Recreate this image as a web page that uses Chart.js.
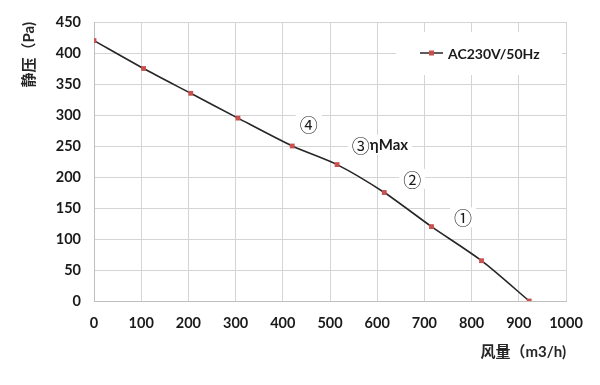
<!DOCTYPE html>
<html>
<head>
<meta charset="utf-8">
<script src="https://cdn.jsdelivr.net/npm/chart.js@4/dist/chart.umd.min.js"></script>
<style>
  html, body { margin: 0; padding: 0; background: #ffffff; }
  #wrap { width: 600px; height: 385px; }
</style>
</head>
<body>
<div id="wrap"><canvas id="c" width="600" height="385"></canvas></div>
<script>
// Data
const flow = [0, 105, 205, 305, 420, 515, 615, 715, 821, 922];
const pressure = [420, 375, 335, 295, 250, 220, 175, 120, 65, 0];
const seriesName = 'AC230V/50Hz';
const xTicks = [0, 100, 200, 300, 400, 500, 600, 700, 800, 900, 1000];
const yTicks = [0, 50, 100, 150, 200, 250, 300, 350, 400, 450];
const labelMarks = ['④', '③', '②', '①'];
const labelSuffix = ['', 'ηMax', '', ''];
const labelX = [455, 606, 674, 782];
const labelY = [285, 252, 197, 135];

const FONT = 'Lato, "Noto Sans CJK SC", sans-serif';
const CJK = '"Noto Sans CJK SC", sans-serif';

const overlay = {
  id: 'overlay',
  beforeDatasetsDraw(chart) {
    const ctx = chart.ctx;
    const xs = chart.scales.x, ys = chart.scales.y;
    ctx.save();
    ctx.textBaseline = 'middle';
    ctx.textAlign = 'left';
    labelMarks.forEach((m, i) => {
      const px = xs.getPixelForValue(labelX[i]);
      const py = ys.getPixelForValue(labelY[i]);
      ctx.font = '18px ' + CJK;
      const w1 = ctx.measureText(m).width;
      ctx.font = 'bold 15px ' + FONT;
      const w2 = labelSuffix[i] ? ctx.measureText(labelSuffix[i]).width : 0;
      const w = w1 + w2;
      const x0 = px - w / 2;
      ctx.fillStyle = '#ffffff';
      ctx.fillRect(x0 - 4, py - 10, w + 8, 20);
      ctx.fillStyle = '#1a1a1a';
      ctx.font = '18px ' + CJK;
      ctx.fillText(m, x0, py + 1);
      if (labelSuffix[i]) {
        ctx.font = 'bold 15px ' + FONT;
        ctx.fillText(labelSuffix[i], x0 + w1, py);
      }
    });
    // legend box
    const ca = chart.chartArea;
    const lx = ca.right - 170, ly = ca.top + 10;
    ctx.fillStyle = '#ffffff';
    ctx.fillRect(lx, ly, 166, 43);
    const cy = ly + 21;
    ctx.strokeStyle = '#262626';
    ctx.lineWidth = 1.5;
    ctx.beginPath();
    ctx.moveTo(lx + 24, cy);
    ctx.lineTo(lx + 47, cy);
    ctx.stroke();
    ctx.fillStyle = '#c8504d';
    ctx.fillRect(lx + 33, cy - 2.5, 5, 5);
    ctx.fillStyle = '#1a1a1a';
    ctx.font = 'bold 14px ' + FONT;
    ctx.textAlign = 'left';
    ctx.fillText(seriesName, lx + 52, cy + 1);
    ctx.restore();
  }
};

new Chart(document.getElementById('c'), {
  type: 'line',
  data: {
    datasets: [{
      label: seriesName,
      data: flow.map((x, i) => ({ x: x, y: pressure[i] })),
      borderColor: '#262626',
      borderWidth: 1.6,
      tension: 0.25,
      pointStyle: 'rect',
      pointRadius: 3.4,
      pointBackgroundColor: '#c8504d',
      pointBorderColor: '#c8504d',
      pointBorderWidth: 0,
      fill: false
    }]
  },
  options: {
    responsive: false,
    animation: false,
    devicePixelRatio: 1,
    layout: { padding: { left: 0, right: 34, top: 22, bottom: 0 } },
    plugins: { legend: { display: false }, tooltip: { enabled: false } },
    scales: {
      x: {
        type: 'linear',
        min: 0, max: 1000,
        afterBuildTicks(axis) { axis.ticks = xTicks.map(v => ({ value: v })); },
        afterFit(axis) { axis.height = 84; },
        grid: { color: '#d4d4d4', lineWidth: 1, drawTicks: false },
        border: { color: '#bfbfbf', width: 1 },
        ticks: {
          padding: 14,
          color: '#1a1a1a',
          font: { family: FONT, size: 14.5, weight: 'bold' },
          maxRotation: 0,
          callback: v => String(v)
        },
        title: {
          display: true,
          text: '风量（m3/h)',
          align: 'end',
          color: '#262626',
          font: { family: FONT, size: 15, weight: 'bold' },
          padding: { top: 0, bottom: 24 }
        }
      },
      y: {
        type: 'linear',
        min: 0, max: 450,
        afterBuildTicks(axis) { axis.ticks = yTicks.map(v => ({ value: v })); },
        afterFit(axis) { axis.width = 94; },
        grid: { color: '#d4d4d4', lineWidth: 1, drawTicks: false },
        border: { color: '#bfbfbf', width: 1 },
        ticks: {
          padding: 13,
          color: '#1a1a1a',
          font: { family: FONT, size: 14.5, weight: 'bold' },
          callback: v => String(v)
        },
        title: {
          display: true,
          text: '静压（Pa)',
          align: 'end',
          color: '#262626',
          font: { family: FONT, size: 15, weight: 'bold' },
          padding: { top: 20, bottom: 0 }
        }
      }
    }
  },
  plugins: [overlay]
});
</script>
</body>
</html>
